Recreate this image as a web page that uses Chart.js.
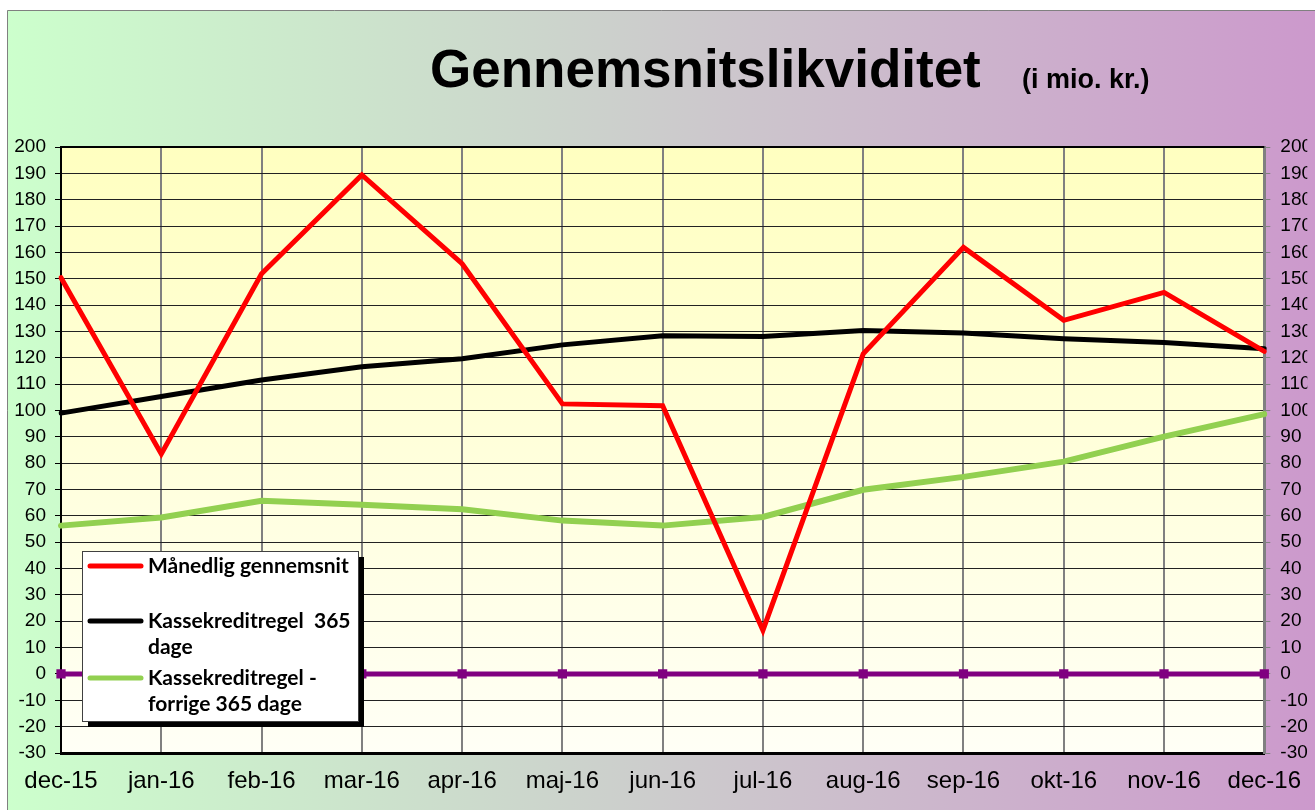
<!DOCTYPE html>
<html>
<head>
  <title>Gennemsnitslikviditet</title>
  <script src="https://cdn.jsdelivr.net/npm/chart.js"></script>
  <style>
    body { margin: 0; background: #fff; }
    canvas { display: block; }
  </style>
</head>
<body>
  <canvas id="grafik" width="1315" height="810"></canvas>

  <script>
    // data
    var maaneder = ['dec-15', 'jan-16', 'feb-16', 'mar-16', 'apr-16', 'maj-16', 'jun-16',
                    'jul-16', 'aug-16', 'sep-16', 'okt-16', 'nov-16', 'dec-16'];
    var maanedligGns = [150.4, 83.5, 151.9, 189.4, 155.7, 102.5, 101.8, 16.6, 121.5, 161.9, 134.2, 144.8, 122.4];
    var kasse365 = [99.0, 105.3, 111.6, 116.6, 119.6, 124.9, 128.4, 128.1, 130.4, 129.4, 127.2, 125.8, 123.4];
    var kasseForrige = [56.3, 59.4, 65.7, 64.2, 62.5, 58.2, 56.3, 59.6, 69.9, 74.8, 80.6, 90.1, 98.6];
    var nulLinje = [0, 0, 0, 0, 0, 0, 0, 0, 0, 0, 0, 0, 0];

    var serieNavne = ['Månedlig gennemsnit', 'Kassekreditregel  365 dage', 'Kassekreditregel - forrige 365 dage'];
    // legendens tekst brudt i linjer som i originalen
    var legendLinjer = [['Månedlig gennemsnit'], ['Kassekreditregel  365', 'dage'], ['Kassekreditregel -', 'forrige 365 dage']];

    var titel = 'Gennemsnitslikviditet';
    var underTitel = '(i mio. kr.)';

    var tekstFont = '"Liberation Sans", Arial, sans-serif';

    // baggrund, plotområde og titel
    var baggrund = {
      id: 'baggrund',
      beforeDraw: function (chart) {
        var ctx = chart.ctx, ca = chart.chartArea;
        ctx.save();
        ctx.fillStyle = '#ffffff';
        ctx.fillRect(0, 0, chart.width, chart.height);
        var g = ctx.createLinearGradient(7, 0, chart.width, 0);
        g.addColorStop(0, '#ccffcc');
        g.addColorStop(1, '#cc99cc');
        ctx.fillStyle = g;
        ctx.fillRect(7, 10, chart.width - 7, chart.height - 10);
        ctx.strokeStyle = '#808080';
        ctx.lineWidth = 1;
        ctx.beginPath();
        ctx.moveTo(7.5, chart.height);
        ctx.lineTo(7.5, 10.5);
        ctx.lineTo(chart.width, 10.5);
        ctx.stroke();

        var p = ctx.createLinearGradient(0, ca.top, 0, ca.bottom);
        p.addColorStop(0, '#ffffc0');
        p.addColorStop(1, '#fffff6');
        ctx.fillStyle = p;
        ctx.fillRect(ca.left, ca.top, ca.right - ca.left, ca.bottom - ca.top);

        ctx.fillStyle = '#000';
        ctx.textBaseline = 'alphabetic';
        ctx.font = 'bold 53px ' + tekstFont;
        ctx.fillText(titel, 430, 87);
        ctx.font = 'bold 27px ' + tekstFont;
        ctx.fillText(underTitel, 1022, 88);
        ctx.restore();
      },
      beforeDatasetsDraw: function (chart) {
        var ctx = chart.ctx, ca = chart.chartArea;
        ctx.save();
        ctx.strokeStyle = '#000';
        ctx.lineWidth = 2;
        ctx.beginPath();
        ctx.moveTo(ca.left, ca.top);
        ctx.lineTo(ca.right, ca.top);
        ctx.stroke();
        ctx.restore();
      }
    };

    // legende-boks med skygge
    var legende = {
      id: 'legende',
      afterDraw: function (chart) {
        var ctx = chart.ctx;
        var x = 82, y = 551, w = 276, h = 170;
        ctx.save();
        ctx.fillStyle = '#000';
        ctx.fillRect(x + 6, y + 6, w, h);
        ctx.fillStyle = '#fff';
        ctx.fillRect(x, y, w, h);
        ctx.strokeStyle = '#404040';
        ctx.lineWidth = 1;
        ctx.strokeRect(x + 0.5, y + 0.5, w, h);

        var raekker = [566, 621, 678];
        ctx.font = 'bold 21px Lato, "Open Sans", sans-serif';
        ctx.textBaseline = 'middle';
        ctx.lineCap = 'round';
        for (var i = 0; i < legendLinjer.length; i++) {
          var ds = chart.data.datasets[i];
          ctx.strokeStyle = ds.borderColor;
          ctx.lineWidth = 5;
          ctx.beginPath();
          ctx.moveTo(90, raekker[i]);
          ctx.lineTo(141, raekker[i]);
          ctx.stroke();
          ctx.fillStyle = '#000';
          for (var j = 0; j < legendLinjer[i].length; j++) {
            ctx.fillText(legendLinjer[i][j], 148, raekker[i] + j * 26);
          }
        }
        ctx.restore();
      }
    };

    var ctx = document.getElementById('grafik').getContext('2d');
    new Chart(ctx, {
      type: 'line',
      data: {
        labels: maaneder,
        datasets: [
          { label: serieNavne[0], data: maanedligGns, borderColor: '#ff0000', borderWidth: 5, pointRadius: 0, yAxisID: 'y' },
          { label: serieNavne[1], data: kasse365, borderColor: '#000000', borderWidth: 5, pointRadius: 0, yAxisID: 'y' },
          { label: serieNavne[2], data: kasseForrige, borderColor: '#92d050', borderWidth: 6, pointRadius: 0, yAxisID: 'y' },
          { label: '', data: nulLinje, borderColor: '#800080', backgroundColor: '#800080', borderWidth: 5,
            pointStyle: 'rect', pointRadius: 3, yAxisID: 'y' }
        ]
      },
      options: {
        responsive: false,
        animation: false,
        layout: { padding: { top: 147, left: 0, right: 0, bottom: 0 } },
        plugins: {
          legend: { display: false },
          title: { display: false },
          tooltip: { enabled: false }
        },
        elements: { line: { tension: 0, borderCapStyle: 'round', borderJoinStyle: 'miter' } },
        scales: {
          x: {
            offset: false,
            grid: { color: '#808080', lineWidth: 2, drawTicks: false },
            border: { color: '#000', width: 3 },
            ticks: { color: '#000', font: { family: tekstFont, size: 24 }, padding: 14, maxRotation: 0, autoSkip: false },
            afterFit: function (s) { s.height = 57; }
          },
          y: {
            position: 'left',
            min: -30, max: 200,
            grid: { color: '#222', lineWidth: 1, tickLength: 6, tickColor: '#000' },
            border: { color: '#000', width: 2 },
            ticks: { stepSize: 10, color: '#000', font: { family: tekstFont, size: 19 }, padding: 9 },
            afterFit: function (s) { s.width = 61; }
          },
          y2: {
            position: 'right',
            min: -30, max: 200,
            grid: { drawOnChartArea: false, tickLength: 6, tickColor: '#808080' },
            border: { color: '#808080', width: 3 },
            ticks: { stepSize: 10, color: '#000', font: { family: tekstFont, size: 19 }, padding: 10 },
            afterFit: function (s) { s.width = 43; }
          }
        }
      },
      plugins: [baggrund, legende]
    });
  </script>
</body>
</html>
